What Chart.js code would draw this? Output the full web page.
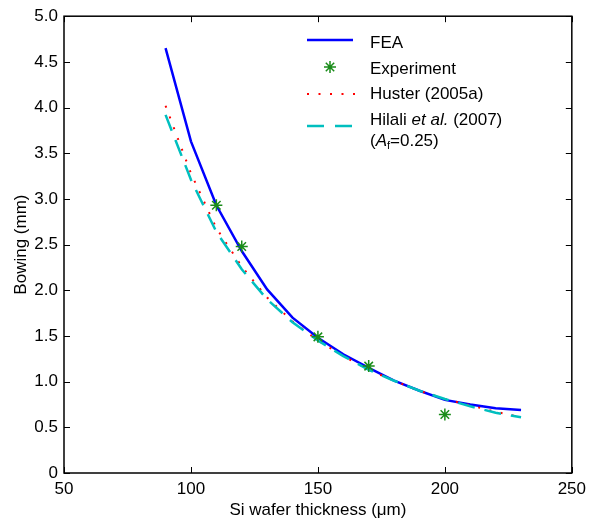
<!DOCTYPE html>
<html>
<head>
<meta charset="utf-8">
<script src="https://cdn.jsdelivr.net/npm/chart.js@4.4.1/dist/chart.umd.min.js"></script>
<style>
  body { margin: 0; background: #fff; }
</style>
</head>
<body>
<canvas id="bowChart" width="592" height="524"></canvas>
<script>
// wafer thickness (um)
var thickness = [90, 100, 110, 120, 130, 140, 150, 160, 170, 180, 190, 200, 210, 220, 230];
var fea    = [4.65, 3.63, 2.93, 2.43, 2.01, 1.70, 1.48, 1.30, 1.15, 1.01, 0.90, 0.80, 0.75, 0.71, 0.69];
var huster = [4.02, 3.28, 2.68, 2.26, 1.92, 1.66, 1.45, 1.28, 1.13, 1.01, 0.90, 0.81, 0.74, 0.67, 0.61];
var hilali = [3.92, 3.21, 2.64, 2.23, 1.90, 1.65, 1.45, 1.28, 1.13, 1.01, 0.90, 0.81, 0.73, 0.66, 0.61];

var expX = [110, 120, 150, 170, 200];
var expY = [2.93, 2.48, 1.49, 1.17, 0.64];

var xTicks = [50, 100, 150, 200, 250];
var yTicks = [0, 0.5, 1.0, 1.5, 2.0, 2.5, 3.0, 3.5, 4.0, 4.5, 5.0];

var FONT = '"Liberation Sans", Arial, sans-serif';
var BLUE = '#0000ff', GREEN = '#1a8c1a', RED = '#ff0000', CYAN = '#00bfbf';

function pairs(xs, ys) {
  return xs.map(function (x, i) { return { x: x, y: ys[i] }; });
}

// frame + inward ticks on all 4 sides
var framePlugin = {
  id: 'frame',
  afterDraw: function (chart) {
    var c = chart.ctx, a = chart.chartArea;
    var sx = chart.scales.x, sy = chart.scales.y;
    c.save();
    c.strokeStyle = '#000';
    c.lineWidth = 1;
    c.beginPath();
    xTicks.forEach(function (v) {
      var px = Math.round(sx.getPixelForValue(v)) + 0.5;
      c.moveTo(px, a.bottom); c.lineTo(px, a.bottom - 6);
      c.moveTo(px, a.top); c.lineTo(px, a.top + 6);
    });
    yTicks.forEach(function (v) {
      var py = Math.round(sy.getPixelForValue(v)) + 0.5;
      c.moveTo(a.left, py); c.lineTo(a.left + 6, py);
      c.moveTo(a.right, py); c.lineTo(a.right - 6, py);
    });
    c.stroke();
    c.lineWidth = 1.5;
    c.strokeRect(a.left, a.top, a.right - a.left, a.bottom - a.top);
    c.restore();
  }
};

// legend with italic pieces and subscript
var legendPlugin = {
  id: 'customLegend',
  afterDraw: function (chart) {
    var c = chart.ctx;
    var x0 = 307, x1 = 353, tx = 370;
    c.save();
    c.lineCap = 'butt';

    c.strokeStyle = BLUE; c.lineWidth = 2.5;
    c.beginPath(); c.moveTo(x0, 40); c.lineTo(x1, 40); c.stroke();

    c.strokeStyle = GREEN; c.lineWidth = 1.5;
    var r = 6, cx = 330, cy = 67;
    c.beginPath();
    c.moveTo(cx - r, cy); c.lineTo(cx + r, cy);
    c.moveTo(cx, cy - r); c.lineTo(cx, cy + r);
    var d = r * 0.7;
    c.moveTo(cx - d, cy - d); c.lineTo(cx + d, cy + d);
    c.moveTo(cx - d, cy + d); c.lineTo(cx + d, cy - d);
    c.stroke();

    c.strokeStyle = RED; c.lineWidth = 2; c.setLineDash([2, 9.5]);
    c.beginPath(); c.moveTo(x0, 94); c.lineTo(x1 + 2, 94); c.stroke();

    c.strokeStyle = CYAN; c.lineWidth = 2.5; c.setLineDash([17, 11]);
    c.beginPath(); c.moveTo(x0, 126); c.lineTo(x1, 126); c.stroke();
    c.setLineDash([]);

    c.fillStyle = '#000';
    c.textBaseline = 'alphabetic';
    c.textAlign = 'left';
    var reg = '17px ' + FONT, ital = 'italic 17px ' + FONT;
    c.font = reg;
    c.fillText('FEA', tx, 48);
    c.fillText('Experiment', tx, 74);
    c.fillText('Huster (2005a)', tx, 99);

    function run(parts, y) {
      var x = tx;
      parts.forEach(function (p) {
        c.font = p[1];
        c.fillText(p[0], x, y + (p[2] || 0));
        x += c.measureText(p[0]).width;
      });
    }
    run([['Hilali ', reg], ['et al.', ital], [' (2007)', reg]], 125);
    run([['(', reg], ['A', ital], ['f', '11px ' + FONT, 3], ['=0.25)', reg]], 146);
    c.restore();
  }
};

new Chart(document.getElementById('bowChart'), {
  type: 'scatter',
  data: {
    datasets: [
      {
        label: 'Experiment',
        data: pairs(expX, expY),
        showLine: false,
        pointStyle: 'star',
        pointRadius: 6,
        pointBorderWidth: 1.5,
        borderColor: GREEN,
        backgroundColor: GREEN
      },
      {
        label: 'Hilali et al. (2007) (Af=0.25)',
        data: pairs(thickness, hilali),
        showLine: true,
        borderColor: CYAN,
        borderWidth: 2.5,
        borderDash: [17, 10],
        pointRadius: 0,
        fill: false
      },
      {
        label: 'Huster (2005a)',
        data: pairs(thickness, huster),
        showLine: true,
        borderColor: RED,
        borderWidth: 2,
        borderDash: [2, 9.5],
        pointRadius: 0,
        fill: false
      },
      {
        label: 'FEA',
        data: pairs(thickness, fea),
        showLine: true,
        borderColor: BLUE,
        borderWidth: 2.5,
        pointRadius: 0,
        fill: false
      }
    ]
  },
  plugins: [framePlugin, legendPlugin],
  options: {
    responsive: false,
    animation: false,
    layout: { padding: { top: 15, right: 17, left: 0, bottom: 0 } },
    plugins: {
      legend: { display: false },
      tooltip: { enabled: false }
    },
    scales: {
      x: {
        type: 'linear',
        min: 50,
        max: 250,
        afterFit: function (s) { s.height = 51; },
        afterBuildTicks: function (s) { s.ticks = xTicks.map(function (v) { return { value: v }; }); },
        grid: { display: false, drawTicks: false },
        border: { display: false },
        ticks: {
          padding: 6,
          color: '#000',
          font: { family: FONT, size: 17 },
          maxRotation: 0,
          callback: function (v) { return String(v); }
        },
        title: {
          display: true,
          text: 'Si wafer thickness (μm)',
          color: '#000',
          font: { family: FONT, size: 17 },
          padding: { top: 0, bottom: 3 }
        }
      },
      y: {
        type: 'linear',
        min: 0,
        max: 5,
        afterFit: function (s) { s.width = 64; },
        afterBuildTicks: function (s) { s.ticks = yTicks.map(function (v) { return { value: v }; }); },
        grid: { display: false, drawTicks: false },
        border: { display: false },
        ticks: {
          padding: 6,
          color: '#000',
          font: { family: FONT, size: 17 },
          callback: function (v) { return v === 0 ? '0' : v.toFixed(1); }
        },
        title: {
          display: true,
          text: 'Bowing (mm)',
          color: '#000',
          font: { family: FONT, size: 17 },
          padding: { top: 11, bottom: 0 }
        }
      }
    }
  }
});
</script>
</body>
</html>
